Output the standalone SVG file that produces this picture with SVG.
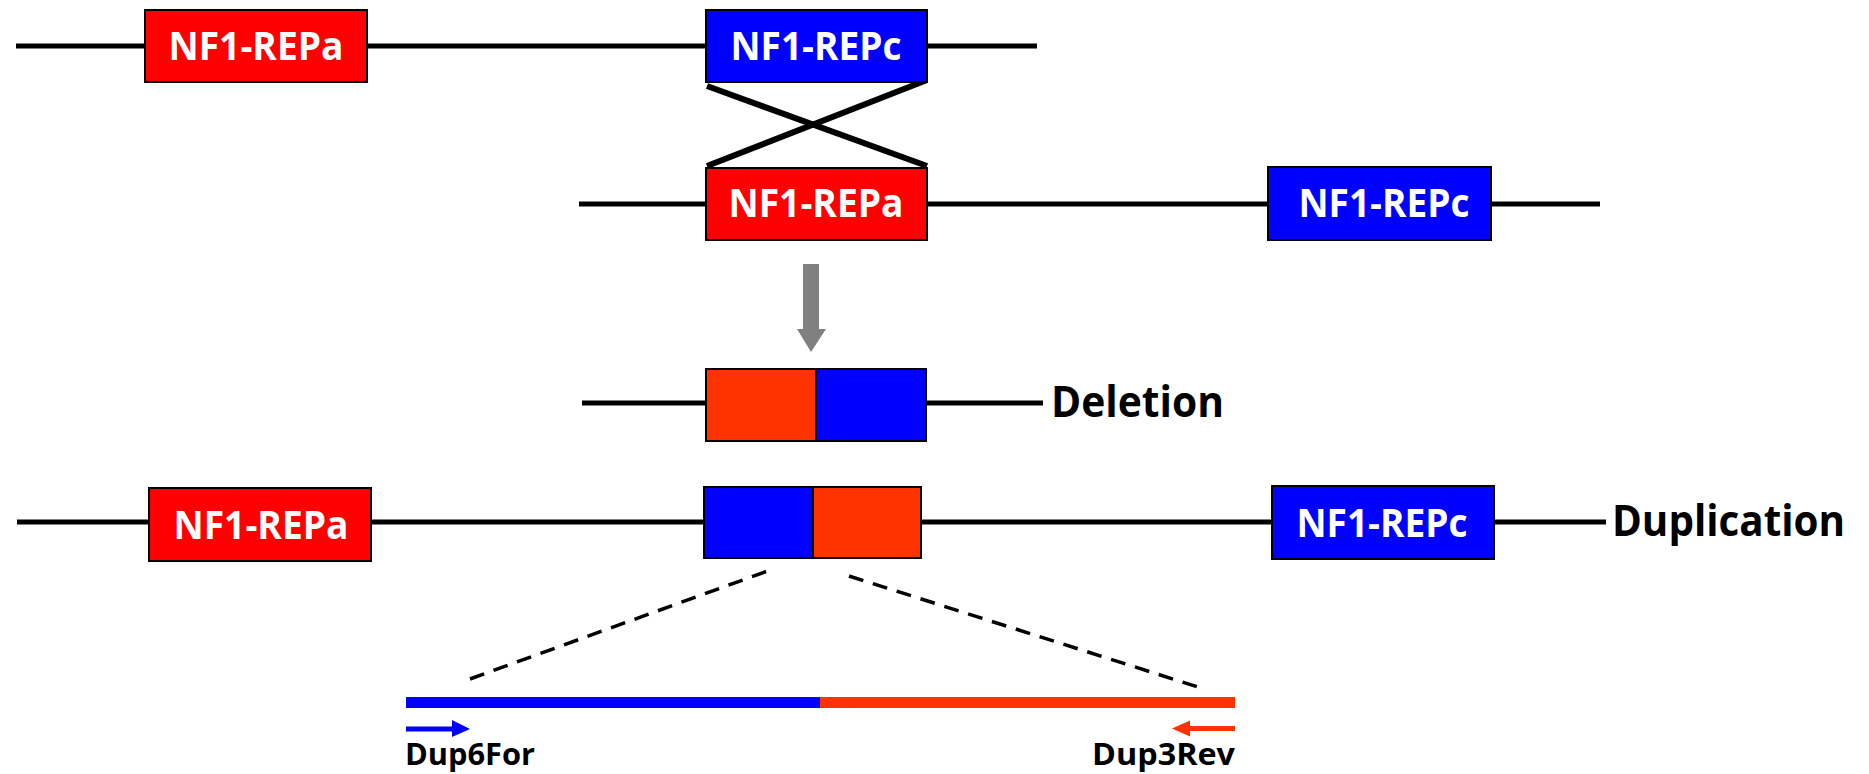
<svg xmlns="http://www.w3.org/2000/svg" width="1869" height="774" viewBox="0 0 1869 774">
  <style>
    .chrom { stroke: #000; stroke-width: 5; fill: none; }
    .cross { stroke: #000; stroke-width: 6; fill: none; }
    .rep-a { fill: #FF0000; stroke: #000; stroke-width: 2; }
    .rep-c { fill: #0000FF; stroke: #000; stroke-width: 2; }
    .seg-red { fill: #FF3300; stroke: #000; stroke-width: 2; }
    .seg-blue { fill: #0000FF; stroke: #000; stroke-width: 2; }
    .lbl { font-family: "Open Sans", "Liberation Sans", sans-serif; font-weight: bold; font-size: 39px; fill: #fff; text-anchor: middle; }
    .big { font-family: "Open Sans", "Liberation Sans", sans-serif; font-weight: bold; font-size: 43px; fill: #000; }
    .primer { font-family: "Open Sans", "Liberation Sans", sans-serif; font-weight: bold; font-size: 31px; fill: #000; }
    .dash { stroke: #000; stroke-width: 3.5; stroke-dasharray: 15 10; fill: none; }
  </style>

  <!-- chromosome backbones and recombination cross -->
  <g id="connectors">
    <line class="chrom" x1="16" y1="46" x2="1037" y2="46"/>
    <line class="chrom" x1="579" y1="204" x2="1600" y2="204"/>
    <line class="chrom" x1="582" y1="403" x2="1043" y2="403"/>
    <line class="chrom" x1="17" y1="522" x2="1606" y2="522"/>
    <line class="cross" x1="707" y1="86" x2="927" y2="166"/>
    <line class="cross" x1="927" y1="80" x2="707" y2="166"/>
    <!-- process arrow -->
    <polygon fill="#808080" points="803,264 819,264 819,329 826,329 811,352 797,329 803,329"/>
    <!-- zoom-in guides -->
    <line class="dash" x1="470" y1="679" x2="773" y2="569"/>
    <line class="dash" x1="849" y1="576" x2="1198" y2="687"/>
  </g>

  <!-- upper chromosome -->
  <g id="top-repa">
    <rect class="rep-a" x="145" y="10" width="222" height="72"/>
    <text class="lbl" x="256" y="60" textLength="175" lengthAdjust="spacingAndGlyphs">NF1-REPa</text>
  </g>
  <g id="top-repc">
    <rect class="rep-c" x="706" y="10" width="221" height="72"/>
    <text class="lbl" x="816" y="60" textLength="171" lengthAdjust="spacingAndGlyphs">NF1-REPc</text>
  </g>

  <!-- lower chromosome -->
  <g id="mid-repa">
    <rect class="rep-a" x="706" y="168" width="221" height="72"/>
    <text class="lbl" x="816" y="217" textLength="175" lengthAdjust="spacingAndGlyphs">NF1-REPa</text>
  </g>
  <g id="mid-repc">
    <rect class="rep-c" x="1268" y="167" width="223" height="73"/>
    <text class="lbl" x="1384" y="217" textLength="171" lengthAdjust="spacingAndGlyphs">NF1-REPc</text>
  </g>

  <!-- deletion product -->
  <g id="deletion">
    <rect class="seg-red" x="706" y="369" width="110" height="72"/>
    <rect class="seg-blue" x="816" y="369" width="110" height="72"/>
    <text class="big" x="1051" y="417" textLength="173" lengthAdjust="spacingAndGlyphs">Deletion</text>
  </g>

  <!-- duplication product -->
  <g id="dup-repa">
    <rect class="rep-a" x="149" y="488" width="222" height="73"/>
    <text class="lbl" x="261" y="539" textLength="175" lengthAdjust="spacingAndGlyphs">NF1-REPa</text>
  </g>
  <g id="duplication">
    <rect class="seg-blue" x="704" y="487" width="109" height="71"/>
    <rect class="seg-red" x="813" y="487" width="108" height="71"/>
  </g>
  <g id="dup-repc">
    <rect class="rep-c" x="1272" y="486" width="222" height="73"/>
    <text class="lbl" x="1382" y="537" textLength="171" lengthAdjust="spacingAndGlyphs">NF1-REPc</text>
  </g>
  <g id="dup-label">
    <text class="big" x="1612" y="536" textLength="233" lengthAdjust="spacingAndGlyphs">Duplication</text>
  </g>

  <!-- junction fragment with primers -->
  <g id="junction">
    <rect x="406" y="697" width="414" height="11" fill="#0000FF"/>
    <rect x="820" y="697" width="415" height="11" fill="#FF3300"/>
  </g>
  <g id="dup6for">
    <polygon fill="#0000FF" points="406,726.5 452,726.5 452,720 470,729 452,737 452,731.5 406,731.5"/>
    <text class="primer" x="405" y="765" textLength="130" lengthAdjust="spacingAndGlyphs">Dup6For</text>
  </g>
  <g id="dup3rev">
    <polygon fill="#FF3300" points="1235,726 1190,726 1190,720.5 1172,728.5 1190,736.5 1190,731 1235,731"/>
    <text class="primer" x="1092" y="765" textLength="143" lengthAdjust="spacingAndGlyphs">Dup3Rev</text>
  </g>
</svg>
